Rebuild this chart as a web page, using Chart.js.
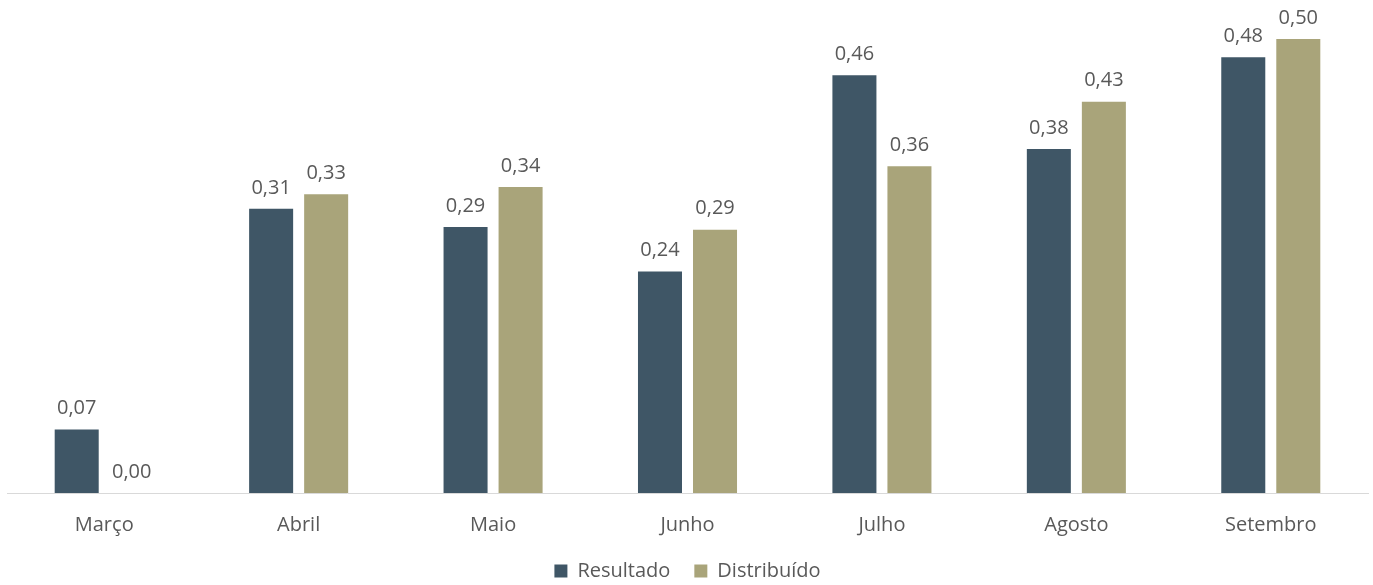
<!DOCTYPE html>
<html>
<head>
<meta charset="utf-8">
<script src="https://cdn.jsdelivr.net/npm/chart.js@4"></script>
<style>
  html, body { margin: 0; padding: 0; background: #fff; }
  #wrap { width: 1373px; height: 585px; }
</style>
</head>
<body>
<div id="wrap"><canvas id="chart"></canvas></div>
<script>
const months = ['Março', 'Abril', 'Maio', 'Junho', 'Julho', 'Agosto', 'Setembro'];
const resultado = [0.07, 0.313, 0.293, 0.244, 0.46, 0.379, 0.48];
const distribuido = [0.0, 0.329, 0.337, 0.29, 0.36, 0.431, 0.50];

const textColor = '#595959';
const fontFamily = '"Open Sans", "Noto Sans", sans-serif';

// draws the value above each bar, pt-BR style
const valueLabels = {
  id: 'valueLabels',
  afterDatasetsDraw(chart) {
    const ctx = chart.ctx;
    ctx.save();
    ctx.font = '20px ' + fontFamily;
    ctx.fillStyle = textColor;
    ctx.textAlign = 'center';
    ctx.textBaseline = 'middle';
    chart.data.datasets.forEach((ds, i) => {
      chart.getDatasetMeta(i).data.forEach((bar, j) => {
        const txt = ds.data[j].toFixed(2).replace('.', ',');
        ctx.fillText(txt, bar.x, bar.y - 21);
      });
    });
    ctx.restore();
  }
};

new Chart(document.getElementById('chart'), {
  type: 'bar',
  data: {
    labels: months,
    datasets: [
      { label: 'Resultado', data: resultado, backgroundColor: '#3F5666' },
      { label: 'Distribuído', data: distribuido, backgroundColor: '#A9A47A' }
    ]
  },
  options: {
    responsive: true,
    maintainAspectRatio: false,
    animation: false,
    categoryPercentage: 0.566,
    barPercentage: 0.8,
    layout: { padding: { left: 7, right: 5, top: 0, bottom: -6 } },
    plugins: {
      legend: {
        position: 'bottom',
        labels: {
          color: textColor,
          font: { family: fontFamily, size: 20 },
          boxWidth: 13,
          boxHeight: 13,
          padding: 4,
          // small row padding keeps the legend close, so add the gap between items here
          generateLabels(chart) {
            const items = Chart.defaults.plugins.legend.labels.generateLabels(chart);
            items.forEach((it, i) => {
              if (i < items.length - 1) it.text += '\u2003';
            });
            return items;
          }
        }
      },
      tooltip: { enabled: false }
    },
    scales: {
      x: {
        grid: { display: false, drawTicks: false },
        border: { color: '#D9D9D9', width: 1 },
        ticks: {
          color: textColor,
          font: { family: fontFamily, size: 20 },
          padding: 20
        }
      },
      y: {
        display: false,
        min: 0,
        max: 0.543
      }
    }
  },
  plugins: [valueLabels]
});
</script>
</body>
</html>
